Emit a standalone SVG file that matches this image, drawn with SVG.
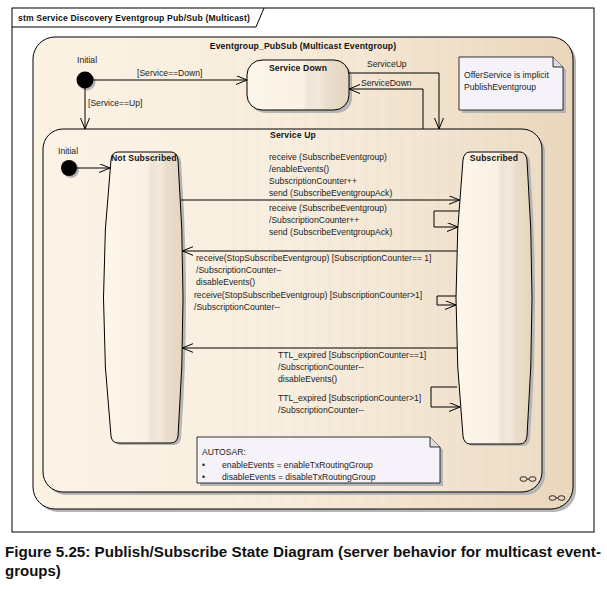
<svg xmlns="http://www.w3.org/2000/svg" width="607" height="591" viewBox="0 0 607 591">
<defs>
<linearGradient id="gOuter" x1="0" y1="0" x2="1" y2="0">
<stop offset="0" stop-color="#FCF2E4"/><stop offset="0.45" stop-color="#F8EDDC"/><stop offset="1" stop-color="#EAD7BC"/>
</linearGradient>
<linearGradient id="gUp" x1="0" y1="0" x2="1" y2="0">
<stop offset="0" stop-color="#FCF3E6"/><stop offset="0.5" stop-color="#F8EEDF"/><stop offset="1" stop-color="#EDDDC6"/>
</linearGradient>
<linearGradient id="gState" x1="0" y1="0" x2="1" y2="0">
<stop offset="0" stop-color="#FDF6EA"/><stop offset="0.55" stop-color="#FAF1E3"/><stop offset="0.6" stop-color="#EDE3D6"/><stop offset="0.7" stop-color="#F3E9DB"/><stop offset="0.8" stop-color="#E8DCCB"/><stop offset="1" stop-color="#E6D6BF"/>
</linearGradient>
<pattern id="stripes" x="0" y="0" width="12" height="10" patternUnits="userSpaceOnUse">
<line x1="6" y1="0" x2="6" y2="10" stroke="#D9C7AC" stroke-width="0.6" opacity="0.35"/>
</pattern>
<marker id="arr" markerUnits="userSpaceOnUse" markerWidth="12" markerHeight="10" refX="11" refY="4.5" orient="auto">
<path d="M0,0 L11,4.5 L0,9" fill="none" stroke="#000" stroke-width="1"/>
</marker>
<style>
.t{font-family:"Liberation Sans",Arial,sans-serif;font-size:8.6px;fill:#222}
.b{font-family:"Liberation Sans",Arial,sans-serif;font-size:8.6px;font-weight:bold;fill:#111;letter-spacing:0.15px}
.cap{font-family:"Liberation Sans",Arial,sans-serif;font-size:15px;font-weight:bold;fill:#111}
.ln{fill:none;stroke:#000;stroke-width:1}
.sh{fill:#B5B5B5}
.st{stroke:#000;stroke-width:1}
.note{fill:#F5F3F9;stroke:#000;stroke-width:0.8}
</style>
</defs>
<rect width="607" height="591" fill="#fff"/>
<g id="frame">
<rect x="12" y="8" width="582" height="524" fill="#fff" stroke="#000" stroke-width="1"/>
<path d="M12,27 H256 L264,8" class="ln"/>
<text x="18" y="21" class="b" textLength="232" lengthAdjust="spacing">stm Service Discovery Eventgroup Pub/Sub (Multicast)</text>
</g>
<g id="eventgroup_pubsub">
<rect x="36" y="40" width="540" height="472" rx="22" class="sh"/>
<rect x="33" y="37" width="540" height="472" rx="22" fill="url(#gOuter)" class="st"/>
<rect x="230" y="38" width="340" height="470" fill="url(#stripes)"/>
<text x="303" y="49" class="b" text-anchor="middle">Eventgroup_PubSub (Multicast Eventgroup)</text>
<g transform="translate(557,498)"><ellipse cx="-4.5" cy="0" rx="3.5" ry="2.3" fill="none" stroke="#000" stroke-width="0.8"/><ellipse cx="4.5" cy="0" rx="3.5" ry="2.3" fill="none" stroke="#000" stroke-width="0.8"/><line x1="-1" y1="0" x2="1" y2="0" stroke="#000" stroke-width="0.8"/></g>
</g>
<g id="initial_top">
<text x="77" y="63" class="t">Initial</text>
<circle cx="87" cy="82" r="8.5" class="sh"/>
<circle cx="85" cy="80" r="8.5" fill="#000"/>
</g>
<g id="service_down">
<rect x="250" y="63" width="102" height="50" rx="15" class="sh"/>
<rect x="247" y="60" width="102" height="50" rx="15" fill="url(#gState)" class="st"/>
<text x="298" y="71" class="b" text-anchor="middle">Service Down</text>
</g>
<g id="note_offer">
<path d="M462,60 H556 L566,70 V113 H462 Z" class="sh"/>
<path d="M459,57 H553 L563,67 V110 H459 Z" class="note"/>
<path d="M553,57 V67 H563" fill="#DDD" stroke="#000" stroke-width="0.8"/>
<text x="464" y="78" class="t">OfferService is implicit</text>
<text x="464" y="90" class="t">PublishEventgroup</text>
</g>
<g id="service_up">
<rect x="46" y="132" width="499" height="363" rx="20" class="sh"/>
<rect x="43" y="129" width="499" height="363" rx="20" fill="url(#gUp)" class="st"/>
<rect x="230" y="130" width="310" height="361" fill="url(#stripes)"/>
<text x="293" y="138" class="b" text-anchor="middle">Service Up</text>
<g transform="translate(528,479)"><ellipse cx="-4.5" cy="0" rx="3.5" ry="2.3" fill="none" stroke="#000" stroke-width="0.8"/><ellipse cx="4.5" cy="0" rx="3.5" ry="2.3" fill="none" stroke="#000" stroke-width="0.8"/><line x1="-1" y1="0" x2="1" y2="0" stroke="#000" stroke-width="0.8"/></g>
</g>
<g id="initial_inner">
<text x="58" y="154" class="t">Initial</text>
<circle cx="71" cy="170" r="8" class="sh"/>
<circle cx="69" cy="168" r="8" fill="#000"/>
</g>
<g id="not_subscribed">
<path d="M121,154 H174 Q180,154 181,162 Q191,300 181,438 Q180,445 174,445 H121 Q115,445 114,438 Q99,300 114,162 Q115,154 121,154 Z" class="sh"/>
<path d="M118,152 H171 Q177,152 178,160 Q188,298 178,436 Q177,443 171,443 H118 Q112,443 111,436 Q96,298 111,160 Q112,152 118,152 Z" fill="url(#gState)" class="st"/>
<text x="111" y="161" class="b">Not Subscribed</text>
</g>
<g id="subscribed">
<path d="M473,154 H523 Q529,154 530,162 Q540,300 530,438 Q529,446 523,446 H473 Q467,446 466,438 Q452,300 466,162 Q467,154 473,154 Z" class="sh"/>
<path d="M470,152 H520 Q526,152 527,160 Q537,298 527,436 Q526,444 520,444 H470 Q464,444 463,436 Q449,298 463,160 Q464,152 470,152 Z" fill="url(#gState)" class="st"/>
<text x="494" y="161" class="b" text-anchor="middle">Subscribed</text>
</g>
<g id="note_autosar">
<path d="M200,440 H433 L443,450 V486 H200 Z" class="sh"/>
<path d="M197,437 H430 L440,447 V483 H197 Z" class="note"/>
<path d="M430,437 V447 H440" fill="#DDD" stroke="#000" stroke-width="0.8"/>
<text x="202" y="455" class="t">AUTOSAR:</text>
<text x="202" y="468" class="t">•</text>
<text x="222" y="468" class="t">enableEvents = enableTxRoutingGroup</text>
<text x="202" y="480" class="t">•</text>
<text x="222" y="480" class="t">disableEvents = disableTxRoutingGroup</text>
</g>
<g id="connectors">
<line x1="93" y1="80" x2="247" y2="80" class="ln" marker-end="url(#arr)"/>
<text x="137" y="76" class="t">[Service==Down]</text>
<line x1="85" y1="88" x2="85" y2="129" class="ln" marker-end="url(#arr)"/>
<text x="88" y="106" class="t">[Service==Up]</text>
<path d="M349,73 H439 V129" class="ln" marker-end="url(#arr)"/>
<text x="367" y="67" class="t">ServiceUp</text>
<path d="M423,129 V89 H349" class="ln" marker-end="url(#arr)"/>
<text x="361" y="86" class="t">ServiceDown</text>
<line x1="77" y1="168" x2="110" y2="168" class="ln" marker-end="url(#arr)"/>
<line x1="181" y1="200" x2="459.5" y2="200" class="ln" marker-end="url(#arr)"/>
<text x="269" y="160" class="t">receive (SubscribeEventgroup)</text>
<text x="269" y="172" class="t">/enableEvents()</text>
<text x="269" y="184" class="t">SubscriptionCounter++</text>
<text x="269" y="196" class="t">send (SubscribeEventgroupAck)</text>
<path d="M459,211 H434 V227 H458" class="ln" marker-end="url(#arr)"/>
<text x="269" y="211" class="t">receive (SubscribeEventgroup)</text>
<text x="269" y="223" class="t">/SubscriptionCounter++</text>
<text x="269" y="235" class="t">send (SubscribeEventgroupAck)</text>
<line x1="457" y1="251" x2="182.4" y2="251" class="ln" marker-end="url(#arr)"/>
<text x="196" y="261" class="t">receive(StopSubscribeEventgroup) [SubscriptionCounter== 1]</text>
<text x="196" y="273" class="t">/SubscriptionCounter–</text>
<text x="196" y="285" class="t">disableEvents()</text>
<path d="M456,296 H437 V305 H456" class="ln" marker-end="url(#arr)"/>
<text x="194" y="298" class="t">receive(StopSubscribeEventgroup) [SubscriptionCounter&gt;1]</text>
<text x="194" y="310" class="t">/SubscriptionCounter--</text>
<line x1="457" y1="348" x2="182.4" y2="348" class="ln" marker-end="url(#arr)"/>
<text x="278" y="358" class="t">TTL_expired [SubscriptionCounter==1]</text>
<text x="278" y="370" class="t">/SubscriptionCounter--</text>
<text x="278" y="382" class="t">disableEvents()</text>
<path d="M457,387 H431 V407 H460" class="ln" marker-end="url(#arr)"/>
<text x="278" y="401" class="t">TTL_expired [SubscriptionCounter&gt;1]</text>
<text x="278" y="413" class="t">/SubscriptionCounter--</text>
</g>
<g id="caption">
<text x="5" y="557" class="cap" textLength="596" lengthAdjust="spacingAndGlyphs">Figure 5.25: Publish/Subscribe State Diagram (server behavior for multicast event-</text>
<text x="5" y="576" class="cap">groups)</text>
</g>
</svg>
